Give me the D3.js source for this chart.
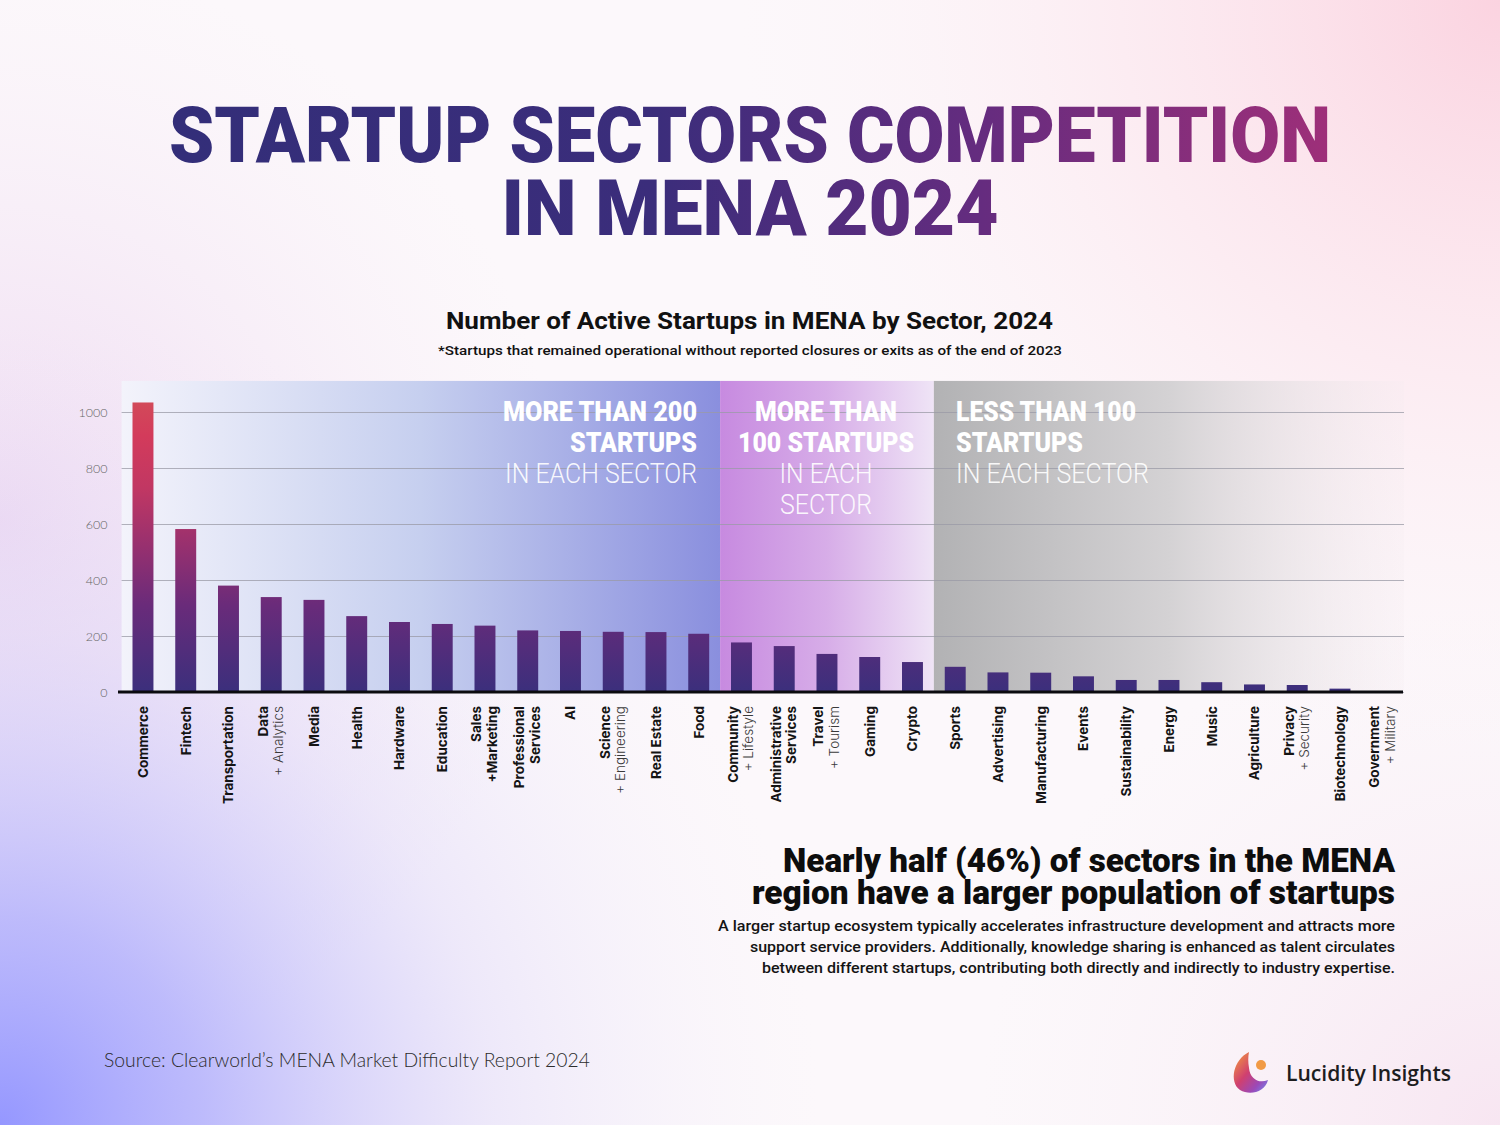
<!DOCTYPE html>
<html>
<head>
<meta charset="utf-8">
<script src="https://cdn.jsdelivr.net/npm/d3@7"></script>
<style>
  html, body { margin: 0; padding: 0; background: #fcf8fb; }
  svg { display: block; }
</style>
</head>
<body>
<script>
// ---------------- DATA ----------------
const categories = ["Commerce", "Fintech", "Transportation", "Data + Analytics", "Media", "Health", "Hardware",
  "Education", "Sales +Marketing", "Professional Services", "AI", "Science + Engineering", "Real Estate", "Food",
  "Community + Lifestyle", "Administrative Services", "Travel + Tourism", "Gaming", "Crypto", "Sports",
  "Advertising", "Manufacturing", "Events", "Sustainability", "Energy", "Music", "Agriculture",
  "Privacy + Security", "Biotechnology", "Government + Military"];
const activeStartups = [1034, 582, 380, 339, 329, 271, 250, 243, 237, 220, 218, 215, 214, 208,
  177, 164, 136, 125, 107, 90, 70, 69, 56, 43, 43, 35, 27, 25, 12, 3];
const labelMain = [["Commerce"], ["Fintech"], ["Transportation"], ["Data"], ["Media"], ["Health"], ["Hardware"],
  ["Education"], ["Sales", "+Marketing"], ["Professional", "Services"], ["AI"], ["Science"], ["Real Estate"], ["Food"],
  ["Community"], ["Administrative", "Services"], ["Travel"], ["Gaming"], ["Crypto"], ["Sports"],
  ["Advertising"], ["Manufacturing"], ["Events"], ["Sustainability"], ["Energy"], ["Music"], ["Agriculture"],
  ["Privacy"], ["Biotechnology"], ["Government"]];
const labelSub = ["", "", "", "+ Analytics", "", "", "", "", "", "", "", "+ Engineering", "", "",
  "+ Lifestyle", "", "+ Tourism", "", "", "", "", "", "", "", "", "", "", "+ Security", "", "+ Military"];
const yTicks = [0, 200, 400, 600, 800, 1000];
const zoneFirst = ["Commerce", "Community + Lifestyle", "Sports"];
const zoneLast = ["Food", "Crypto", "Government + Military"];
const zoneBold = [["MORE THAN 200", "STARTUPS"], ["MORE THAN", "100 STARTUPS"], ["LESS THAN 100", "STARTUPS"]];
const zoneLight = [["IN EACH SECTOR"], ["IN EACH", "SECTOR"], ["IN EACH SECTOR"]];
const titleLines = ["STARTUP SECTORS COMPETITION", "IN MENA 2024"];
const chartTitle = "Number of Active Startups in MENA by Sector, 2024";
const chartNote = "*Startups that remained operational without reported closures or exits as of the end of 2023";
const headline = ["Nearly half (46%) of sectors in the MENA", "region have a larger population of startups"];
const paragraph = ["A larger startup ecosystem typically accelerates infrastructure development and attracts more",
  "support service providers. Additionally, knowledge sharing is enhanced as talent circulates",
  "between different startups, contributing both directly and indirectly to industry expertise."];
const sourceText = "Source: Clearworld\u2019s MENA Market Difficulty Report 2024";
const brandText = "Lucidity Insights";

// ---------------- SETUP ----------------
const W = 1500, H = 1125;
const svg = d3.select("body").append("svg").attr("width", W).attr("height", H);
const defs = svg.append("defs");

function linear(id, x1, y1, x2, y2, stops, user) {
  const g = defs.append("linearGradient").attr("id", id)
    .attr("x1", x1).attr("y1", y1).attr("x2", x2).attr("y2", y2);
  if (user) g.attr("gradientUnits", "userSpaceOnUse");
  stops.forEach(s => g.append("stop").attr("offset", s[0]).attr("stop-color", s[1]).attr("stop-opacity", s[2] == null ? 1 : s[2]));
  return g;
}
function radial(id, cx, cy, r, stops) {
  const g = defs.append("radialGradient").attr("id", id).attr("gradientUnits", "userSpaceOnUse")
    .attr("cx", cx).attr("cy", cy).attr("r", r);
  stops.forEach(s => g.append("stop").attr("offset", s[0]).attr("stop-color", s[1]).attr("stop-opacity", s[2]));
}

// background
svg.append("rect").attr("width", W).attr("height", H).attr("fill", "#fcf8fb");
radial("bgBL", 0, 1125, 820, [[0, "#9597ff", 1], [0.25, "#aeacfc", 0.8], [0.6, "#d8d1f8", 0.4], [1, "#f4eef9", 0]]);
radial("bgTR", 1500, 0, 760, [[0, "#fbd3e0", 1], [0.5, "#fce4ec", 0.6], [1, "#fdf2f6", 0]]);
radial("bgL", 0, 520, 560, [[0, "#ecd6f1", 0.9], [1, "#f6eaf5", 0]]);
radial("bgBR", 1500, 1125, 520, [[0, "#f6e1ef", 0.8], [1, "#f8eef5", 0]]);
["bgL", "bgBR", "bgTR", "bgBL"].forEach(id =>
  svg.append("rect").attr("width", W).attr("height", H).attr("fill", `url(#${id})`));

// ---------------- SCALES ----------------
const x = d3.scaleBand().domain(categories).range([121.6, 1404.1]).paddingInner(0.51).paddingOuter(0.255);
const y = d3.scaleLinear().domain([0, 1000]).range([692, 412]);
const half = (x.step() - x.bandwidth()) / 2;

// ---------------- ZONES ----------------
linear("zone0", 0, 0, 1, 0, [[0, "#f3f3fb"], [0.5, "#c6cfef"], [1, "#8a8fde"]]);
linear("zone1", 0, 0, 1, 0, [[0, "#c78ae0"], [0.5, "#d7ade8"], [1, "#efe4f6"]]);
linear("zone2", 0, 0, 1, 0, [[0, "#b2b2b4", 1], [0.5, "#d4d2d4", 1], [1, "#f2eaee", 0.2]]);
const zoneTop = y(1111);
zoneFirst.forEach((f, i) => {
  const x0 = x(f) - half;
  const x1 = x(zoneLast[i]) + x.bandwidth() + half;
  svg.append("rect").attr("x", x0).attr("y", zoneTop).attr("width", x1 - x0).attr("height", y(0) - zoneTop)
    .attr("fill", `url(#zone${i})`);
});

// ---------------- GRID / Y AXIS ----------------
const yAxis = d3.axisLeft(y).tickValues(yTicks).tickFormat(d3.format("d"))
  .tickSize(-(1404 - 121.6)).tickPadding(14);
const gy = svg.append("g").attr("transform", "translate(121.6,0)").call(yAxis);
gy.select(".domain").remove();
gy.selectAll(".tick line").attr("stroke", "#9a9aa6").attr("stroke-opacity", 0.75).attr("stroke-width", 1);
gy.selectAll(".tick text").attr("fill", "#666").attr("font-family", "Lato, 'Open Sans', sans-serif")
  .attr("font-weight", 300).attr("font-size", 12.5);

// ---------------- BARS ----------------
linear("barGrad", 0, y(0), 0, y(1040), [[0, "#3b2f7c"], [0.3, "#6a2b7a"], [0.5, "#97306f"], [0.7, "#c13763"], [0.88, "#d33b5b"], [1, "#d24a59"]], true);
svg.append("g").selectAll("rect").data(categories).join("rect")
  .attr("x", d => x(d)).attr("width", x.bandwidth())
  .attr("y", (d, i) => y(activeStartups[i])).attr("height", (d, i) => y(0) - y(activeStartups[i]))
  .attr("fill", "url(#barGrad)");

// baseline
svg.append("line").attr("x1", 118).attr("x2", 1403).attr("y1", y(0)).attr("y2", y(0))
  .attr("stroke", "#0b0b0f").attr("stroke-width", 3);

// ---------------- X LABELS ----------------
const labFont = "Inter, Roboto, 'Liberation Sans', sans-serif";
const gx = svg.append("g");
categories.forEach((c, i) => {
  const cx = x(c) + x.bandwidth() / 2;
  const lines = labelMain[i].map(t => ({ t, bold: true }));
  if (labelSub[i]) lines.push({ t: labelSub[i], bold: false });
  const g = gx.append("g").attr("transform", `translate(${cx},706) rotate(-90)`);
  const n = lines.length;
  lines.forEach((l, k) => {
    const off = n === 1 ? 5 : (k === 0 ? -3.5 : 12);
    g.append("text").attr("x", 0).attr("y", off).attr("text-anchor", "end")
      .attr("font-family", labFont).attr("font-size", 13.5)
      .attr("font-weight", l.bold ? 700 : 300)
      .attr("fill", l.bold ? "#141414" : "#3a3a3a")
      .text(l.t);
  });
});

// ---------------- ZONE ANNOTATIONS ----------------
const annFont = "Roboto, 'Liberation Sans', sans-serif";
const annAnchor = ["end", "middle", "start"];
const annX = [697, 826, 956];
const annLens = [[[194, 127], [192]], [[142, 176], [93, 92]], [[180, 127], [193]]];
zoneBold.forEach((lines, i) => {
  const all = lines.map(t => ({ t, bold: true })).concat(zoneLight[i].map(t => ({ t, bold: false })));
  const lens = annLens[i][0].concat(annLens[i][1]);
  all.forEach((l, k) => {
    svg.append("text").attr("x", annX[i]).attr("y", 421 + k * 31)
      .attr("text-anchor", annAnchor[i])
      .attr("font-family", annFont).attr("font-size", 27)
      .attr("font-weight", l.bold ? 900 : 300)
      .attr("fill", "#ffffff").attr("fill-opacity", l.bold ? 1 : 0.92)
      .attr("textLength", lens[k]).attr("lengthAdjust", "spacingAndGlyphs")
      .text(l.t);
  });
});

// ---------------- TITLES ----------------
linear("titleGrad", 168, 0, 1330, 0, [[0, "#332e79"], [0.42, "#3b2d7b"], [0.7, "#652c7f"], [1, "#9e2f79"]], true);
const titleLens = [1162, 497];
const titleY = [162, 235];
titleLines.forEach((t, i) => {
  svg.append("text").attr("x", 750).attr("y", titleY[i]).attr("text-anchor", "middle")
    .attr("font-family", "Roboto, Lato, sans-serif").attr("font-weight", 900).attr("font-size", 78)
    .attr("fill", "url(#titleGrad)")
    .attr("textLength", titleLens[i]).attr("lengthAdjust", "spacingAndGlyphs")
    .text(t);
});

svg.append("text").attr("x", 749.5).attr("y", 329).attr("text-anchor", "middle")
  .attr("font-family", annFont).attr("font-weight", 700).attr("font-size", 23.5).attr("fill", "#111")
  .attr("textLength", 607).attr("lengthAdjust", "spacingAndGlyphs").text(chartTitle);
svg.append("text").attr("x", 750).attr("y", 355).attr("text-anchor", "middle")
  .attr("font-family", annFont).attr("font-weight", 500).attr("font-size", 13.5).attr("fill", "#111")
  .attr("textLength", 624).attr("lengthAdjust", "spacingAndGlyphs").text(chartNote);

// ---------------- HEADLINE & PARAGRAPH ----------------
const headLens = [612, 643];
const headY = [872, 904];
headline.forEach((t, i) => {
  svg.append("text").attr("x", 1395).attr("y", headY[i]).attr("text-anchor", "end")
    .attr("font-family", annFont).attr("font-weight", 900).attr("font-size", 33).attr("fill", "#0d0d0d")
    .attr("textLength", headLens[i]).attr("lengthAdjust", "spacingAndGlyphs").text(t);
});
const paraLens = [677, 645, 633];
paragraph.forEach((t, i) => {
  svg.append("text").attr("x", 1395).attr("y", 931 + i * 21).attr("text-anchor", "end")
    .attr("font-family", annFont).attr("font-weight", 500).attr("font-size", 14.5).attr("fill", "#141414")
    .attr("textLength", paraLens[i]).attr("lengthAdjust", "spacingAndGlyphs").text(t);
});

// ---------------- SOURCE ----------------
svg.append("text").attr("x", 104).attr("y", 1067)
  .attr("font-family", "Lato, 'Open Sans', sans-serif").attr("font-weight", 300).attr("font-size", 19.5)
  .attr("fill", "#2c2c2c").attr("textLength", 486).attr("lengthAdjust", "spacingAndGlyphs").text(sourceText);

// ---------------- LOGO ----------------
linear("logoGrad", 0, 0, 1, 1, [[0, "#f6a23a"], [0.45, "#d0406f"], [0.75, "#9b49b8"], [1, "#6f8cf2"]]);
svg.append("path")
  .attr("d", "M1249,1052 C1233,1060 1229,1082 1240,1090 C1250,1096 1265,1092 1268,1080 C1259,1084 1250,1079 1249,1068 C1248,1062 1248,1057 1249,1052 Z")
  .attr("fill", "url(#logoGrad)");
svg.append("circle").attr("cx", 1261).attr("cy", 1065).attr("r", 5).attr("fill", "#f19a45");
svg.append("text").attr("x", 1286).attr("y", 1081)
  .attr("font-family", "'Open Sans', Lato, sans-serif").attr("font-weight", 600).attr("font-size", 22)
  .attr("fill", "#1d1d1f").attr("textLength", 165).attr("lengthAdjust", "spacingAndGlyphs").text(brandText);
</script>
</body>
</html>
